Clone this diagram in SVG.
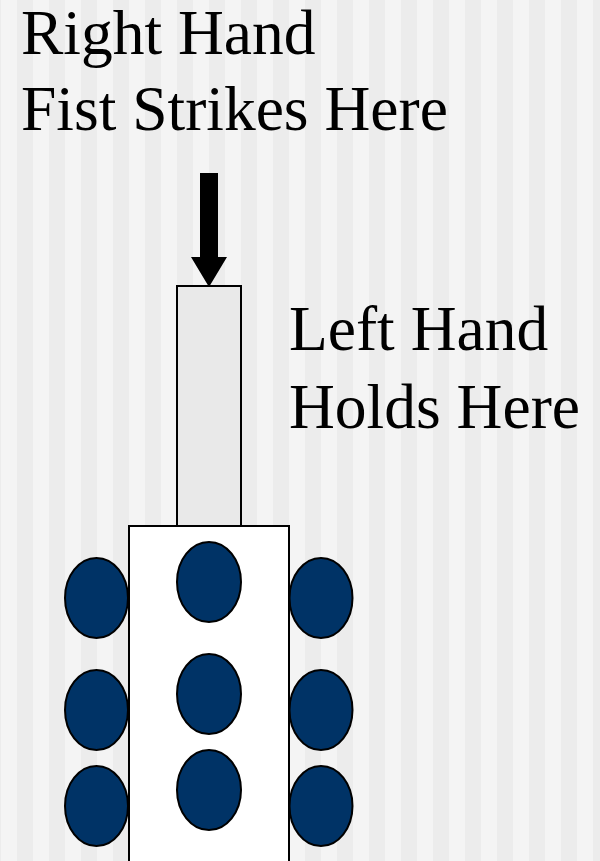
<svg xmlns="http://www.w3.org/2000/svg" width="600" height="861" viewBox="0 0 600 861">
<defs>
<pattern id="stripes" x="1" y="0" width="32" height="861" patternUnits="userSpaceOnUse">
<rect x="0" y="0" width="16" height="861" fill="#f4f4f4"/>
<rect x="16" y="0" width="16" height="861" fill="#ececec"/>
</pattern>
<style>
.lbl { font-family: "Liberation Serif", "Times New Roman", serif; font-size: 63.5px; fill: #000; }
.peg { fill: #003366; stroke: #000; stroke-width: 2; }
.box { stroke: #000; stroke-width: 2; }
</style>
</defs>
<rect x="0" y="0" width="600" height="861" fill="url(#stripes)"/>
<g id="label-right">
<text class="lbl" x="21" y="54">Right Hand</text>
<text class="lbl" x="21" y="130">Fist Strikes Here</text>
</g>
<g id="label-left">
<text class="lbl" x="289" y="350">Left Hand</text>
<text class="lbl" x="289" y="428">Holds Here</text>
</g>
<g id="handle">
<rect class="box" x="177" y="286" width="64" height="240" fill="#e9e9e9"/>
</g>
<g id="base">
<rect class="box" x="129" y="526" width="160" height="340" fill="#ffffff"/>
</g>
<g id="pegs">
<ellipse class="peg" cx="96.5" cy="598" rx="31.5" ry="40"/>
<ellipse class="peg" cx="96.5" cy="710" rx="31.5" ry="40"/>
<ellipse class="peg" cx="96.5" cy="806" rx="31.5" ry="40"/>
<ellipse class="peg" cx="209" cy="582" rx="32" ry="40"/>
<ellipse class="peg" cx="209" cy="694" rx="32" ry="40"/>
<ellipse class="peg" cx="209" cy="790" rx="32" ry="40"/>
<ellipse class="peg" cx="321" cy="598" rx="31.5" ry="40"/>
<ellipse class="peg" cx="321" cy="710" rx="31.5" ry="40"/>
<ellipse class="peg" cx="321" cy="806" rx="31.5" ry="40"/>
</g>
<g id="connectors">
<polygon points="200,173 218,173 218,257 227,257 209,287 191,257 200,257" fill="#000"/>
</g>
</svg>
